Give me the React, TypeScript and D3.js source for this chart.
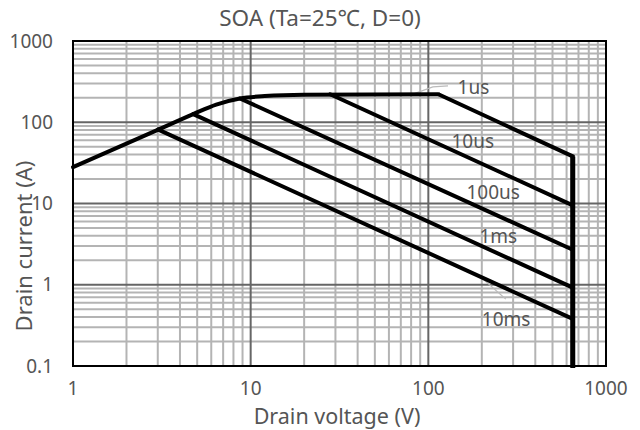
import React from "react";
import * as d3 from "d3";

const W = 640;
const H = 430;
const M = { left: 73, right: 34, top: 41, bottom: 64 };

const xTicks = [1, 10, 100, 1000];
const xTickLabels = ["1", "10", "100", "1000"];
const yTicks = [0.1, 1, 10, 100, 1000];
const yTickLabels = ["0.1", "1", "10", "100", "1000"];

// SOA envelope (DC-limited rising part, curved knee, flat, 1us power line, voltage limit)
const riseV = [1, 3.02];
const riseI = [28, 81];
const kneeV = [3.02, 4.75, 6.4, 8.7, 12, 20, 114];
const kneeI = [81, 126, 165, 196, 210, 218, 221];
const fallV = [114, 650, 650];
const fallI = [221, 38, 0.1];

// Pulse lines: [startV, startI, endV, endI]
const pulseNames = ["10us", "100us", "1ms", "10ms"];
const pulseStartV = [28, 8.7, 4.75, 3.02];
const pulseStartI = [221, 196, 126, 81];
const pulseEndV = [650, 650, 650, 650];
const pulseEndI = [9.5, 2.7, 0.92, 0.38];

// Curve labels
const labelText = ["1us", "10us", "100us", "1ms", "10ms"];
const labelV = [146, 135, 164, 194, 200];
const labelI = [270, 59, 13.8, 3.94, 0.37];

// Leader lines
const leader1usV = [82, 106, 129];
const leader1usI = [222, 273, 281];
const leader10msV = [200, 273];
const leader10msI = [1.21, 0.666];

const FONT = "'Noto Sans', 'Open Sans', sans-serif";
const TEXT = "#555555";

export default function App() {
  const x = d3.scaleLog().domain([1, 1000]).range([M.left, W - M.right]);
  const y = d3.scaleLog().domain([0.1, 1000]).range([H - M.bottom, M.top]);

  const minorX: number[] = [];
  const minorY: number[] = [];
  [1, 10, 100].forEach((d) => {
    for (let k = 2; k <= 9; k++) minorX.push(d * k);
  });
  [0.1, 1, 10, 100].forEach((d) => {
    for (let k = 2; k <= 9; k++) minorY.push(d * k);
  });

  const lin = d3
    .line<[number, number]>()
    .x((d) => x(d[0]))
    .y((d) => y(d[1]));
  const smooth = d3
    .line<[number, number]>()
    .x((d) => x(d[0]))
    .y((d) => y(d[1]))
    .curve(d3.curveMonotoneX);

  const zip = (a: number[], b: number[]) => a.map((v, i) => [v, b[i]] as [number, number]);

  const minorColor = "#b4b4b4";
  const majorColor = "#666666";

  return (
    <svg
      width={W}
      height={H}
      style={{ position: "absolute", left: 0, top: 0, background: "#fff" }}
    >
      <rect x={0} y={0} width={W} height={H} fill="#fff" />
      {/* minor grid */}
      {minorX.map((v) => (
        <line
          key={"mx" + v}
          x1={x(v)}
          x2={x(v)}
          y1={y(0.1)}
          y2={y(1000)}
          stroke={minorColor}
          strokeWidth={2}
        />
      ))}
      {minorY.map((v) => (
        <line
          key={"my" + v}
          x1={x(1)}
          x2={x(1000)}
          y1={y(v)}
          y2={y(v)}
          stroke={minorColor}
          strokeWidth={2}
        />
      ))}
      {/* major grid */}
      {[10, 100].map((v) => (
        <line
          key={"Mx" + v}
          x1={x(v)}
          x2={x(v)}
          y1={y(0.1)}
          y2={y(1000)}
          stroke={majorColor}
          strokeWidth={2}
        />
      ))}
      {[1, 10, 100].map((v) => (
        <line
          key={"My" + v}
          x1={x(1)}
          x2={x(1000)}
          y1={y(v)}
          y2={y(v)}
          stroke={majorColor}
          strokeWidth={2}
        />
      ))}
      {/* frame */}
      <rect
        x={x(1)}
        y={y(1000)}
        width={x(1000) - x(1)}
        height={y(0.1) - y(1000)}
        fill="none"
        stroke="#000"
        strokeWidth={2}
      />
      {/* leader lines */}
      <path d={lin(zip(leader1usV, leader1usI)) || ""} fill="none" stroke="#bbbbbb" strokeWidth={1.2} />
      <path d={lin(zip(leader10msV, leader10msI)) || ""} fill="none" stroke="#bbbbbb" strokeWidth={1.2} />
      {/* pulse lines */}
      {pulseNames.map((n, i) => (
        <path
          key={n}
          d={
            lin([
              [pulseStartV[i], pulseStartI[i]],
              [pulseEndV[i], pulseEndI[i]],
            ]) || ""
          }
          fill="none"
          stroke="#000"
          strokeWidth={4}
          strokeLinecap="round"
        />
      ))}
      {/* envelope */}
      <path d={lin(zip(riseV, riseI)) || ""} fill="none" stroke="#000" strokeWidth={4} strokeLinecap="round" />
      <path d={smooth(zip(kneeV, kneeI)) || ""} fill="none" stroke="#000" strokeWidth={4} strokeLinecap="round" />
      <path
        d={lin(zip(fallV, fallI)) || ""}
        fill="none"
        stroke="#000"
        strokeWidth={4}
        strokeLinejoin="miter"
      />
      <line
        x1={x(650)}
        x2={x(650)}
        y1={y(38)}
        y2={y(0.1) + 2}
        stroke="#000"
        strokeWidth={5}
      />
      {/* curve labels */}
      {labelText.map((t, i) => (
        <text
          key={t}
          x={x(labelV[i])}
          y={y(labelI[i])}
          dy="0.35em"
          fontFamily={FONT}
          fontSize={19}
          fill={TEXT}
        >
          {t}
        </text>
      ))}
      {/* tick labels */}
      {yTicks.map((v, i) => (
        <text
          key={"yt" + v}
          x={M.left - 20}
          y={y(v)}
          dy="0.35em"
          textAnchor="end"
          fontFamily={FONT}
          fontSize={19}
          fill={TEXT}
        >
          {yTickLabels[i]}
        </text>
      ))}
      {xTicks.map((v, i) => (
        <text
          key={"xt" + v}
          x={x(v)}
          y={388}
          dy="0.35em"
          textAnchor="middle"
          fontFamily={FONT}
          fontSize={19}
          fill={TEXT}
        >
          {xTickLabels[i]}
        </text>
      ))}
      {/* titles */}
      <text
        x={320}
        y={18}
        dy="0.35em"
        textAnchor="middle"
        fontFamily={FONT}
        fontSize={22.5}
        fill={TEXT}
      >
        SOA (Ta=25℃, D=0)
      </text>
      <text
        x={337}
        y={423.5}
        textAnchor="middle"
        fontFamily={FONT}
        fontSize={21.5}
        fill={TEXT}
      >
        Drain voltage (V)
      </text>
      <text
        transform={`translate(24, 246) rotate(-90)`}
        dy="0.35em"
        textAnchor="middle"
        fontFamily={FONT}
        fontSize={22}
        fill={TEXT}
      >
        Drain current (A)
      </text>
    </svg>
  );
}
